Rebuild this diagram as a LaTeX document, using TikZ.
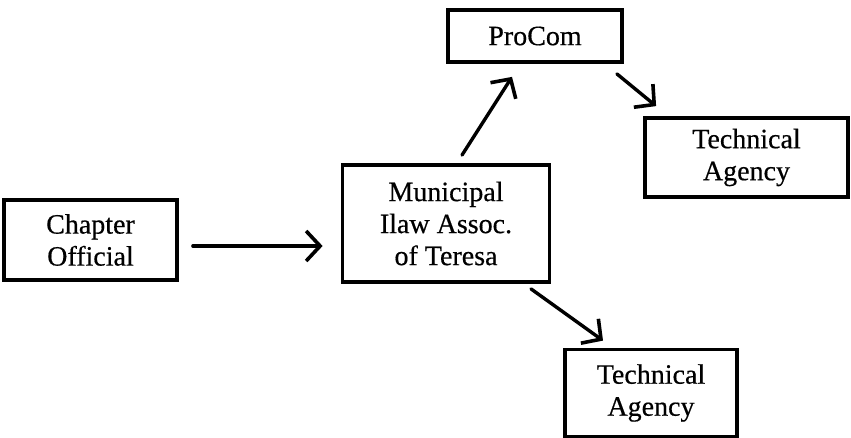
\documentclass[tikz,border=0pt]{standalone}
\usepackage{fontspec}
\setmainfont[FakeBold=0.5]{Liberation Serif}
\usetikzlibrary{arrows.meta}
\begin{document}
\begin{tikzpicture}[x=1pt,y=-1pt,
  box/.style={draw, line width=3.8pt, align=center, inner sep=0pt,
    font=\fontsize{28}{32}\selectfont},
  arr/.style={line width=3.4pt, line cap=round,
    -{Straight Barb[length=14pt,width=30pt,line width=3.6pt]}}]
  \useasboundingbox (0,0) rectangle (851,438);

  \node[box, minimum width=173pt, minimum height=80pt] (chap) at (90.5,240) {Chapter\\Official};
  \node[box, minimum width=207pt, minimum height=117pt] (muni) at (446,223.5) {Municipal\\Ilaw Assoc.\\of Teresa};
  \node[box, minimum width=174pt, minimum height=52pt] (procom) at (535,36) {ProCom};
  \node[box, minimum width=203pt, minimum height=79pt] (tech1) at (746.5,157.5) {Technical\\Agency};
  \node[box, minimum width=172pt, minimum height=87pt] (tech2) at (651,393) {Technical\\Agency};

  % chapter official to the municipal association
  \draw[arr] ([xshift=14pt,yshift=-6pt]chap.east) -- ([xshift=-18pt,yshift=-6pt]chap.east -| muni.west);
  % association up to ProCom
  \draw[arr] ([xshift=16pt,yshift=8pt]muni.north) -- ([xshift=-23pt,yshift=-13pt]procom.south);
  % ProCom to the upper technical agency
  \draw[arr] ([xshift=-7pt,yshift=-10pt]procom.south east) -- ([xshift=13pt,yshift=10pt]tech1.north west);
  % association down to the lower technical agency
  \draw[arr] ([xshift=85pt,yshift=-5pt]muni.south) -- ([xshift=-48pt,yshift=7pt]tech2.north);
\end{tikzpicture}
\end{document}
